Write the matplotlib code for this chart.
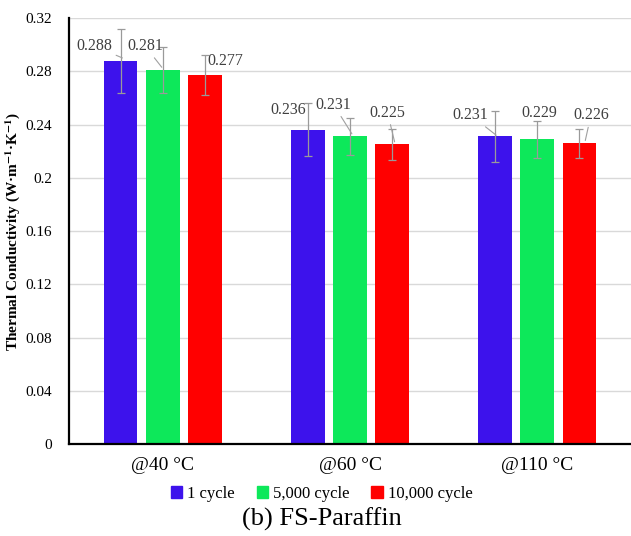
import numpy as np
import matplotlib
matplotlib.use("Agg")
import matplotlib.pyplot as plt
from matplotlib.patches import Patch

plt.rcParams['font.family'] = ['Liberation Serif', 'DejaVu Serif']
plt.rcParams['mathtext.fontset'] = 'stix'

# data
temps = ['@40 °C', '@60 °C', '@110 °C']
series = ['1 cycle', '5,000 cycle', '10,000 cycle']
cycle_1 = [0.288, 0.236, 0.231]
cycle_5000 = [0.281, 0.231, 0.229]
cycle_10000 = [0.277, 0.225, 0.226]
err_1 = [0.024, 0.020, 0.019]
err_5000 = [0.017, 0.014, 0.014]
err_10000 = [0.015, 0.012, 0.011]

values = [cycle_1, cycle_5000, cycle_10000]
errors = [err_1, err_5000, err_10000]
colors = ['#3d12ec', '#0de85a', '#ff0000']

# label placement (text position, leader end or None) for each bar
label_pos = [
    [((-0.366, 0.299), (-0.215, 0.290)), ((0.671, 0.251), None), ((1.644, 0.247), (1.78, 0.232))],
    [((-0.094, 0.299), (-0.005, 0.283)), ((0.912, 0.255), (1.01, 0.233)), ((2.008, 0.249), None)],
    [((0.334, 0.288), None), ((1.20, 0.249), (1.238, 0.227)), ((2.286, 0.247), (2.256, 0.228))],
]

fig = plt.figure(figsize=(6.31, 5.36), dpi=100)
ax = fig.add_axes([0.1094, 0.1716, 0.8906, 0.7948])

x = np.arange(len(temps))
width = 0.18
offsets = [-0.225, 0, 0.225]

for i in range(3):
    ax.bar(x + offsets[i], values[i], width, color=colors[i], zorder=2)
    ax.errorbar(x + offsets[i], values[i], yerr=errors[i], fmt='none',
                ecolor='#9a9a9a', elinewidth=0.9, capsize=3, capthick=0.9, zorder=3)
    for j in range(3):
        txt, end = label_pos[i][j]
        if end is None:
            ax.text(txt[0], txt[1], f"{values[i][j]:.3f}", ha='center', va='center',
                    fontsize=11.5, color='#404040', zorder=4)
        else:
            ax.annotate(f"{values[i][j]:.3f}", xy=end, xytext=txt,
                        ha='center', va='center', fontsize=11.5, color='#404040',
                        arrowprops=dict(arrowstyle='-', color='#a0a0a0', lw=0.8,
                                        shrinkA=1, shrinkB=0), zorder=4)

ax.set_xlim(-0.5, 2.5)
ax.set_ylim(0, 0.32)
ax.set_yticks(np.arange(0, 0.321, 0.04))
ax.set_yticklabels(['0', '0.04', '0.08', '0.12', '0.16', '0.2', '0.24', '0.28', '0.32'])
ax.set_xticks(x)
ax.set_xticklabels(temps, fontsize=14)
ax.tick_params(axis='y', length=0, pad=12, labelsize=11)
ax.tick_params(axis='x', length=0, pad=9)
ax.grid(axis='y', color='#d9d9d9', lw=1, zorder=0)
ax.spines['top'].set_visible(False)
ax.spines['right'].set_visible(False)
ax.spines['left'].set_linewidth(1.6)
ax.spines['bottom'].set_linewidth(1.6)
ax.set_ylabel('Thermal Conductivity (W·m$^{\\mathbf{-1}}$·K$^{\\mathbf{-1}}$)',
              fontsize=11, fontweight='bold')
ax.yaxis.set_label_coords(-0.083, 0.5)

handles = [Patch(color=c) for c in colors]
fig.legend(handles, series, loc='center', bbox_to_anchor=(0.51, 0.079), ncol=3,
           frameon=False, fontsize=12, handlelength=0.7, handleheight=0.7,
           handletextpad=0.3, columnspacing=1.3)
fig.text(0.51, 0.032, '(b) FS-Paraffin', ha='center', va='center', fontsize=19)

fig.savefig('out.png', dpi=100)
